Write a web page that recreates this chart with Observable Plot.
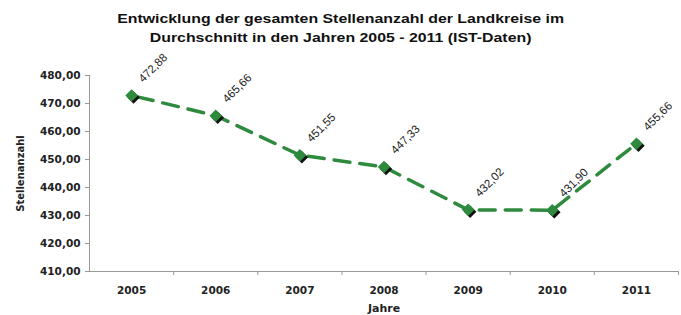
<!DOCTYPE html>
<html><head><meta charset="utf-8">
<script src="https://cdn.jsdelivr.net/npm/d3@7"></script>
<script src="https://cdn.jsdelivr.net/npm/@observablehq/plot@0.6"></script>
<style>
body{margin:0;background:#fff;font-family:"Liberation Sans",Arial,sans-serif;overflow:hidden;}
#title{width:681px;text-align:center;font-weight:bold;font-size:13px;line-height:19px;padding-top:9px;height:41px;box-sizing:border-box;color:#111;transform:scaleX(1.22);transform-origin:340px 0;}
</style></head><body>
<div id="title">Entwicklung der gesamten Stellenanzahl der Landkreise im<br>Durchschnitt in den Jahren 2005 - 2011 (IST-Daten)</div>
<div id="chart"></div>
<script>
const years = [2005, 2006, 2007, 2008, 2009, 2010, 2011];
const values = [472.88, 465.66, 451.55, 447.33, 432.02, 431.90, 455.66];
const labels = ["472,88", "465,66", "451,55", "447,33", "432,02", "431,90", "455,66"];
const yTicks = [410, 420, 430, 440, 450, 460, 470, 480];
const boundaries = [2005.5, 2006.5, 2007.5, 2008.5, 2009.5, 2010.5, 2011.5];

const data = years.map((y, i) => ({year: y, value: values[i], label: labels[i]}));
const fmt = d => d3.format(".2f")(d).replace(".", ",");
const green = "#2e8b3e";
const axisFont = "DejaVu Sans, sans-serif";

const plot = Plot.plot({
  width: 681,
  height: 274,
  marginTop: 34,
  marginBottom: 44,
  marginLeft: 89,
  marginRight: 3,
  style: {fontFamily: "Liberation Sans, Arial, sans-serif", fontSize: "11px", color: "#222", background: "#fff"},
  x: {type: "linear", domain: [2004.5, 2011.5], label: null, axis: null},
  y: {type: "linear", domain: [410, 480], label: null, axis: null},
  marks: [
    Plot.ruleY([410], {stroke: "#999", strokeWidth: 1}),
    Plot.ruleX([2004.5], {stroke: "#999", strokeWidth: 1}),
    Plot.axisY(yTicks, {tickSize: 4, stroke: "#999", tickFormat: fmt, fontFamily: axisFont, fontWeight: "bold", fontSize: 10.5, tickPadding: 5, label: null, fill: "#222"}),
    Plot.axisX(boundaries, {tickSize: 4, stroke: "#999", tickFormat: () => "", label: null}),
    Plot.axisX(years, {tickSize: 0, tickFormat: d => String(d), fontFamily: axisFont, fontWeight: "bold", fontSize: 10.5, tickPadding: 15, label: null, fill: "#222"}),
    Plot.text(["Jahre"], {frameAnchor: "bottom", dy: 40, fontFamily: axisFont, fontWeight: "bold", fontSize: 11, fill: "#222"}),
    Plot.text(["Stellenanzahl"], {frameAnchor: "left", textAnchor: "middle", dx: -69, rotate: -90, fontFamily: axisFont, fontWeight: "bold", fontSize: 10, fill: "#222"}),
    Plot.line(data, {x: "year", y: "value", stroke: green, strokeWidth: 3.5, strokeDasharray: "16,10", strokeDashoffset: -6}),
    Plot.dot(data, {x: "year", y: "value", symbol: "square", r: 5, rotate: 45, fill: "#111", dx: 2, dy: 2}),
    Plot.dot(data, {x: "year", y: "value", symbol: "square", r: 5, rotate: 45, fill: green}),
    Plot.text(data, {x: "year", y: "value", text: "label", rotate: -45, textAnchor: "start", dx: 9, dy: -15, fontSize: 11.5, fill: "#222"})
  ]
});
document.getElementById("chart").appendChild(plot);
</script>
</body></html>
